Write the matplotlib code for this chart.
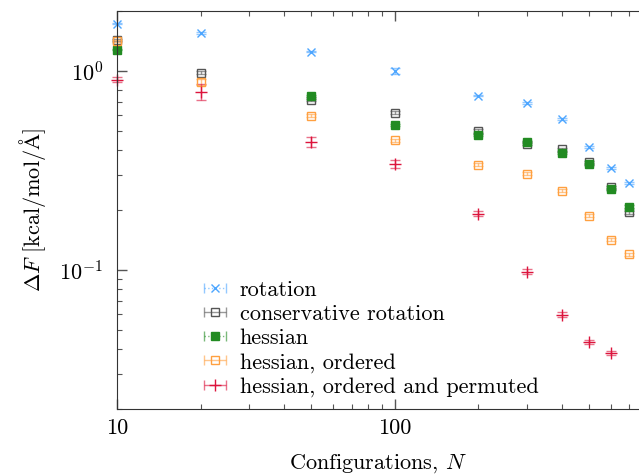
import numpy as np
import matplotlib
matplotlib.use("Agg")
import matplotlib.pyplot as plt
from matplotlib import ticker

plt.rcParams['font.family'] = ['cmr10', 'DejaVu Serif']
plt.rcParams['mathtext.fontset'] = 'cm'
plt.rcParams['axes.formatter.use_mathtext'] = True
plt.rcParams['font.size'] = 16

# configurations N
n_conf = [10, 20, 50, 100, 200, 300, 400, 500, 600, 700]

rotation = [1.73, 1.55, 1.25, 1.0, 0.75, 0.69, 0.573, 0.413, 0.324, 0.274]
rotation_err = [0.01, 0.01, 0.01, 0.03, 0.006, 0.005, 0.005, 0.005, 0.004, 0.003]

conservative = [1.43, 0.98, 0.713, 0.618, 0.498, 0.431, 0.403, 0.347, 0.26, 0.195]
conservative_err = [0.02, 0.02, 0.01, 0.01, 0.01, 0.006, 0.006, 0.005, 0.004, 0.003]

hessian = [1.28, np.nan, 0.746, 0.536, 0.475, 0.44, 0.388, 0.339, 0.256, 0.208]
hessian_err = [0.01, 0.0, 0.008, 0.006, 0.005, 0.005, 0.004, 0.004, 0.003, 0.003]

ordered = [1.41, 0.88, 0.594, 0.448, 0.338, 0.304, 0.25, 0.187, 0.142, 0.12]
ordered_err = [0.02, 0.03, 0.01, 0.008, 0.005, 0.005, 0.004, 0.003, 0.002, 0.002]

permuted = [0.905, 0.785, 0.44, 0.341, 0.192, 0.098, 0.0597, 0.0432, 0.0383, np.nan]
permuted_err = [0.025, 0.07, 0.025, 0.016, 0.005, 0.0025, 0.0015, 0.001, 0.0008, 0.0]

labels = ["rotation", "conservative rotation", "hessian",
          "hessian, ordered", "hessian, ordered and permuted"]

fig = plt.figure(figsize=(6.39, 4.75), dpi=100)
ax = fig.add_axes([0.1831, 0.1389, 0.8169, 0.8379])

styles = [
    dict(marker='x', color='#4da6ff', mfc='#4da6ff', ms=6, ls=':'),
    dict(marker='s', color='#555555', mfc='none', ms=6, ls='-'),
    dict(marker='s', color='#228b22', mfc='#228b22', ms=6, ls=':'),
    dict(marker='s', color='#ffa040', mfc='none', ms=6, ls='-'),
    dict(marker='+', color='#dc143c', mfc='#dc143c', ms=8, ls='-'),
]
series = [(rotation, rotation_err), (conservative, conservative_err),
          (hessian, hessian_err), (ordered, ordered_err),
          (permuted, permuted_err)]

handles = []
for (y, e), st, lab in zip(series, styles, labels):
    c = ax.errorbar(n_conf, y, yerr=e, fmt=st['marker'], color=st['color'],
                    mfc=st['mfc'], mec=st['color'], ms=st['ms'], mew=1.0,
                    ecolor=st['color'], elinewidth=1.0, capsize=3.5,
                    capthick=1.0, label=lab, clip_on=False)
    for bl in c[2]:
        bl.set_alpha(0.6)
        bl.set_linestyle(st['ls'])
    for cl in c[1]:
        cl.set_alpha(0.6)
    # legend shows horizontal bars
    c.has_xerr = True
    c.has_yerr = False
    handles.append(c)

ax.set_xscale('log')
ax.set_yscale('log')
ax.set_xlim(10, 760)
ax.set_ylim(0.02, 2.0)

ax.xaxis.set_major_formatter(ticker.FuncFormatter(lambda v, p: '%d' % v))
ax.xaxis.set_minor_formatter(ticker.NullFormatter())

ax.tick_params(which='both', direction='in', top=True, right=False, colors='#555555',
               labelcolor='black')
ax.tick_params(which='major', length=7, width=1.0)
ax.tick_params(which='minor', length=3.5, width=0.8)
ax.tick_params(axis='x', pad=7)
ax.tick_params(axis='y', pad=10)
for s in ['left', 'bottom', 'top']:
    ax.spines[s].set_color('#333333')
ax.spines['right'].set_visible(False)

ax.set_xlabel('Configurations, $N$', labelpad=10)
ax.set_ylabel(r'$\Delta F\ [\mathrm{kcal/mol/\AA}]$', labelpad=8)

ax.legend(handles, labels, loc='lower left', bbox_to_anchor=(0.15, 0.008),
          frameon=False, handlelength=1.0, handletextpad=0.6, labelspacing=0.2,
          borderaxespad=0.0, fontsize=16)

fig.savefig('out.png', dpi=100)
